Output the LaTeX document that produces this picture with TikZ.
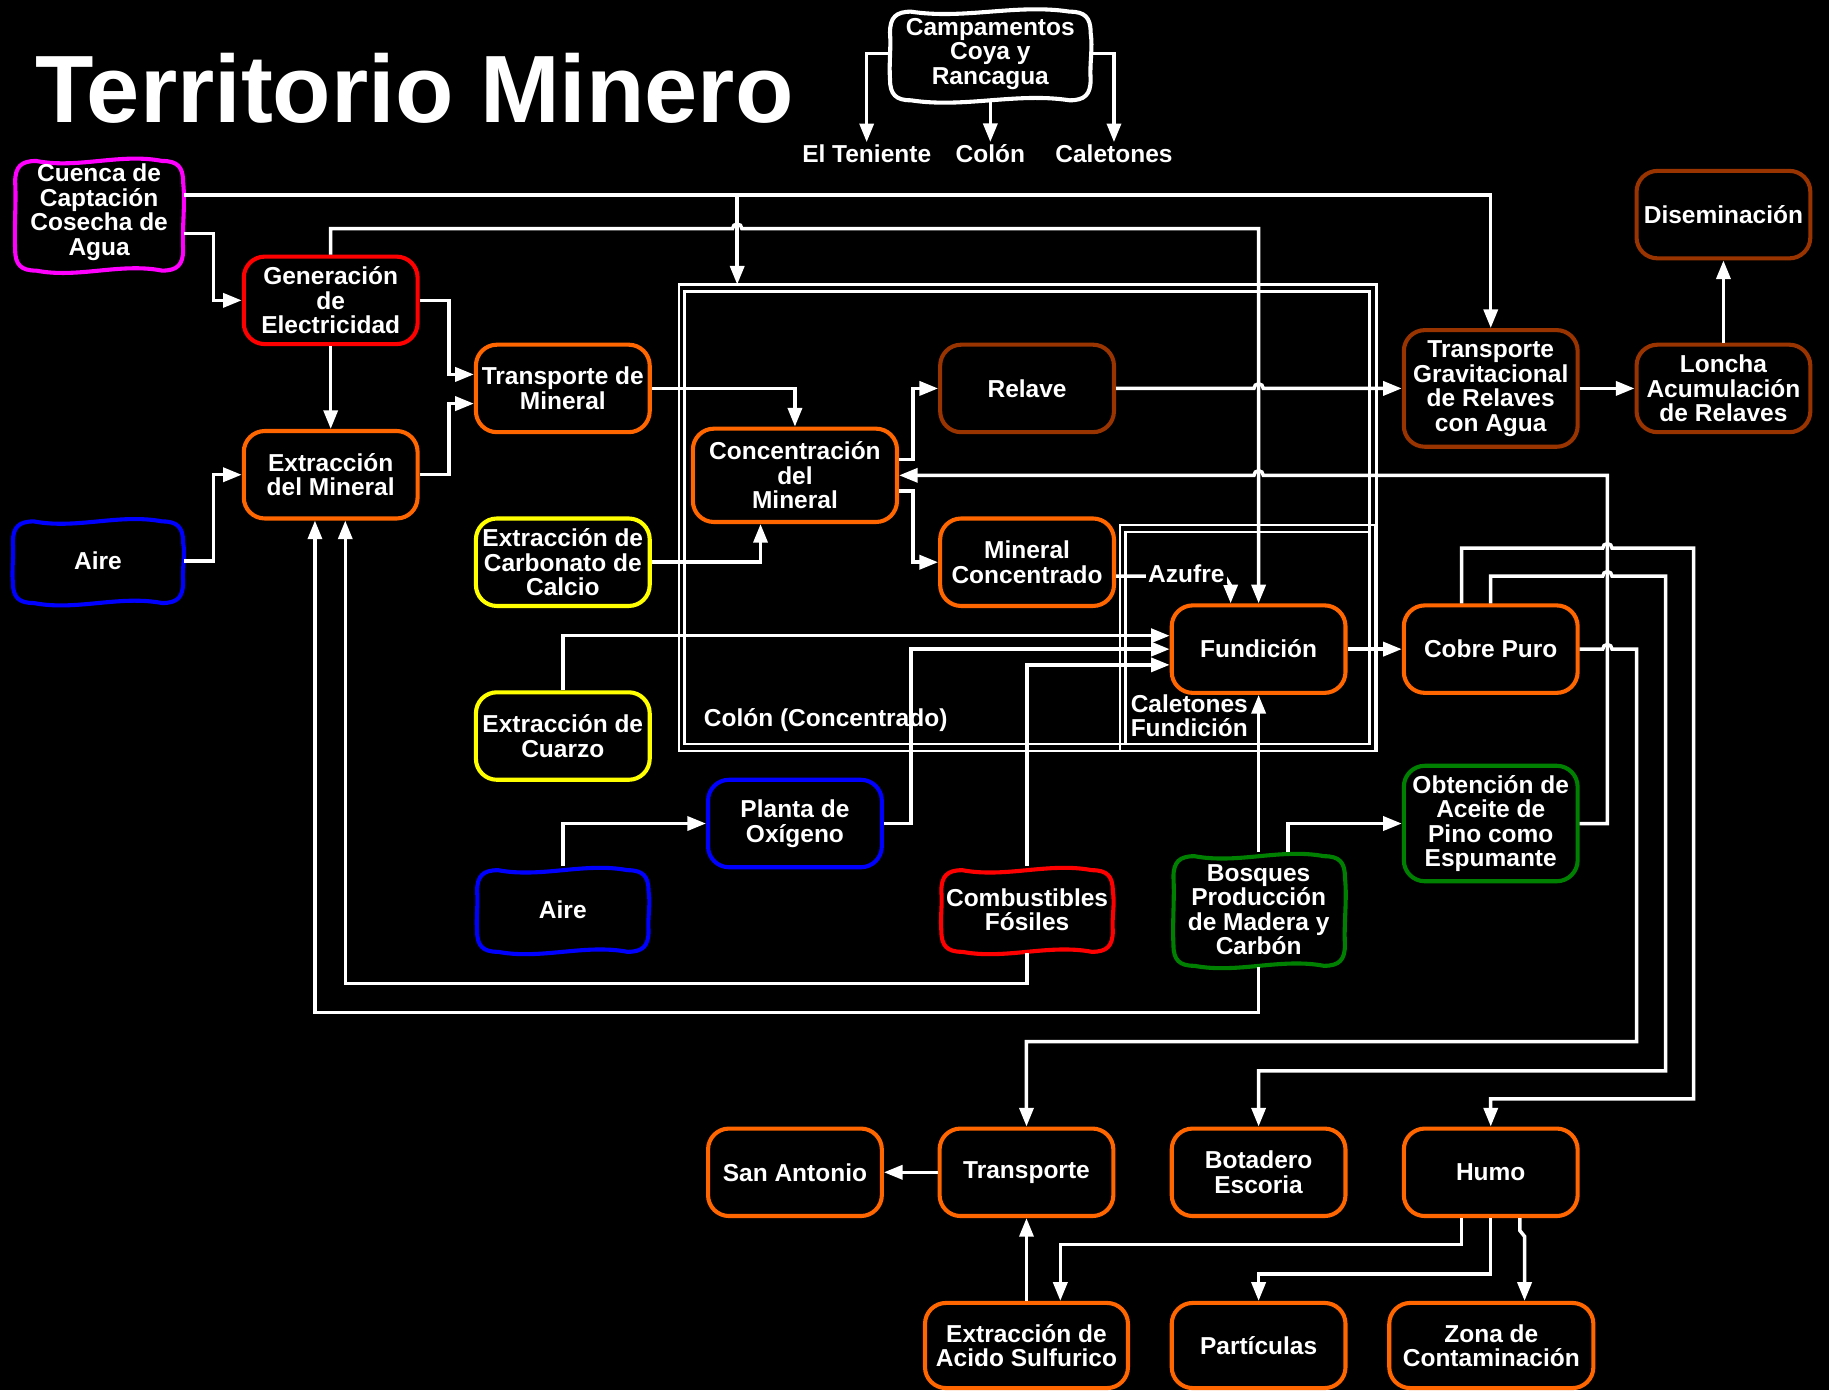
\documentclass[tikz,border=0pt]{standalone}
\usepackage{fontspec}
\setmainfont{Liberation Sans}
\usetikzlibrary{arrows.meta}
\definecolor{corange}{HTML}{FF6600}
\definecolor{cbrown}{HTML}{993300}
\definecolor{cred}{HTML}{FF0000}
\definecolor{cyellow}{HTML}{FFFF00}
\definecolor{cblue}{HTML}{0000FF}
\definecolor{cgreen}{HTML}{008000}
\definecolor{cmagenta}{HTML}{FF00FF}
\newcommand\wavyshape[5]{%
  \pgfmathsetmacro\wxa{#1}%
  \pgfmathsetmacro\wya{#2}%
  \pgfmathsetmacro\wxb{#3}%
  \pgfmathsetmacro\wyb{#4}%
  \pgfmathsetmacro\wtt{(#3-#1-36)/3}%
  \pgfmathsetmacro\wth{(#4-#2-36)/3}%
  \draw[line width=1.75pt, draw=#5, fill=black]
    ({\wxa},{\wya+18}) .. controls ({\wxa},{\wya+5}) and ({\wxa+5},{\wya}) .. ({\wxa+18},{\wya})
    .. controls ({\wxa+18+\wtt},{\wya+7}) and ({\wxb-18-\wtt},{\wya-7}) .. ({\wxb-18},{\wya})
    .. controls ({\wxb-5},{\wya}) and ({\wxb},{\wya+5}) .. ({\wxb},{\wya+18})
    .. controls ({\wxb+2},{\wya+18+\wth}) and ({\wxb-1},{\wyb-18-\wth}) .. ({\wxb},{\wyb-18})
    .. controls ({\wxb},{\wyb-5}) and ({\wxb-5},{\wyb}) .. ({\wxb-18},{\wyb})
    .. controls ({\wxb-18-\wtt},{\wyb-7}) and ({\wxa+18+\wtt},{\wyb+7}) .. ({\wxa+18},{\wyb})
    .. controls ({\wxa+5},{\wyb}) and ({\wxa},{\wyb-5}) .. ({\wxa},{\wyb-18})
    .. controls ({\wxa-1},{\wyb-18-\wth}) and ({\wxa+1},{\wya+18+\wth}) .. ({\wxa},{\wya+18}) -- cycle;
}
\begin{document}
\begin{tikzpicture}[x=0.5pt,y=-0.5pt,
  every node/.style={text=white, font=\fontsize{10.5}{10.5}\selectfont\bfseries, align=center},
  box/.style={rectangle, rounded corners=9pt, line width=1.75pt, fill=black, inner sep=0pt,
              minimum width=74.5pt, minimum height=37.5pt},
  ghost/.style={rectangle, inner sep=0pt, minimum width=74.5pt, minimum height=37pt},
  arr/.style={draw=white, line width=1.5pt, -{Triangle[length=8pt,width=6pt]}},
  cont/.style={draw=white, line width=1.1pt},
  lbl/.style={inner sep=1pt},
]
\fill[black] (0,0) rectangle (1568,1192);
\useasboundingbox (0,0) rectangle (1568,1192);

% containers
\draw[cont] (582,244) rectangle (1180,644);
\draw[cont] (587,250) rectangle (1174,638);
\draw[cont] (960,450) rectangle (1179,644);
\draw[cont] (965,456) rectangle (1174,638);

% title
\node[anchor=base west, inner sep=0pt, font=\fontsize{41}{41}\selectfont\bfseries] (title) at (30,105) {Territorio Minero};

% boxes
\node[box, draw=cred] (gen) at (283.5,257.5) {Generación\\de\\Electricidad};
\node[box, draw=corange] (extm) at (283.5,407) {Extracción\\del Mineral};
\node[box, draw=corange] (tmin) at (482.5,333) {Transporte de\\Mineral};
\node[box, draw=cyellow] (carb) at (482.5,482) {Extracción de\\Carbonato de\\Calcio};
\node[box, draw=cyellow] (cuarzo) at (482.5,631) {Extracción de\\Cuarzo};
\node[box, draw=cblue] (planta) at (681.5,706) {Planta de\\Oxígeno};
\node[box, draw=corange, minimum width=87.5pt, minimum height=40pt] (conc) at (681.5,407.5) {Concentración\\del\\Mineral};
\node[box, draw=cbrown] (relave) at (880.5,333) {Relave};
\node[box, draw=corange] (mconc) at (880.5,482) {Mineral\\Concentrado};
\node[box, draw=corange] (fund) at (1079,556.5) {Fundición};
\node[box, draw=corange] (cobre) at (1278,556.5) {Cobre Puro};
\node[box, draw=cbrown, minimum height=50pt] (tgrav) at (1278,333) {Transporte\\Gravitacional\\de Relaves\\con Agua};
\node[box, draw=cbrown] (loncha) at (1477.5,333) {Loncha\\Acumulación\\de Relaves};
\node[box, draw=cbrown] (disem) at (1477.5,184) {Diseminación};
\node[box, draw=cgreen, minimum height=49.5pt] (obt) at (1278,706) {Obtención de\\Aceite de\\Pino como\\Espumante};
\node[box, draw=corange] (sanant) at (681.5,1005) {San Antonio};
\node[box, draw=corange] (transp) at (880,1005) {Transporte};
\node[box, draw=corange] (botad) at (1079,1005) {Botadero\\Escoria};
\node[box, draw=corange] (humo) at (1278,1005) {Humo};
\node[box, draw=corange, minimum width=87pt, minimum height=36.5pt] (acido) at (880,1153.5) {Extracción de\\Acido Sulfurico};
\node[box, draw=corange, minimum height=36.5pt] (partic) at (1079,1153.5) {Partículas};
\node[box, draw=corange, minimum width=87.5pt, minimum height=36.5pt] (zona) at (1278.5,1153.5) {Zona de\\Contaminación};

% wavy shapes
\wavyshape{13}{138}{157}{232}{cmagenta}
\wavyshape{11}{447}{157}{517}{cblue}
\wavyshape{409}{746}{556}{816}{cblue}
\wavyshape{807}{746}{954}{816}{cred}
\wavyshape{1006}{734}{1153}{828}{cgreen}
\wavyshape{763}{10}{935}{86}{white}
\node[ghost, minimum width=72.5pt, minimum height=48pt] (cuenca) at (85,182) {Cuenca de\\Captación\\Cosecha de\\Agua};
\node[ghost, minimum width=73.5pt] (aire1) at (84,481) {Aire};
\node[ghost] (aire2) at (482.5,780) {Aire};
\node[ghost] (comb) at (880.5,780) {Combustibles\\Fósiles};
\node[ghost, minimum height=49pt] (bosq) at (1079,780) {Bosques\\Producción\\de Madera y\\Carbón};
\node[ghost, minimum width=87pt, minimum height=40pt] (camp) at (849,46) {Campamentos\\Coya y\\Rancagua};

% labels
\node[lbl] (tenl) at (743,132) {El Teniente};
\node[lbl] (colonl) at (849,132) {Colón};
\node[lbl] (caletl) at (955,132) {Caletones};
\node[lbl, anchor=west] (colonc) at (601,617) {Colón (Concentrado)};
\node[lbl, anchor=west, align=left] (caletf) at (967,613.5) {Caletones\\Fundición};

% connectors
\draw[arr] (camp.west |- 0,46) -| (tenl.north);
\draw[arr] (camp.south) -- (colonl.north);
\draw[arr] (camp.east |- 0,46) -| (caletl.north);

\coordinate (j1) at (632,167);
\coordinate (colontop) at (632,244);
\draw[arr] (cuenca.east |- 0,167) -| (tgrav.north);
\draw[arr] (j1) -- (colontop);
\draw[arr] (cuenca.east |- 0,200) -- (183,200) |- (gen.west);
\draw[arr] (gen.north) -- (283.5,196) -- (628,196) arc[start angle=180,end angle=360,radius=4] -- (1079,196) -- (fund.north);
\draw[arr] (gen.south) -- (extm.north);
\draw[arr] (gen.east) -- ++(25,0) |- (tmin.west |- 0,321);
\draw[arr] (extm.east) -- ++(25,0) |- (tmin.west |- 0,346);
\draw[arr] (aire1.east) -- ++(25,0) |- (extm.west);
\draw[arr] (tmin.east) -| (conc.north);
\draw[arr] (carb.east) -| (conc.south -| 652,0);
\draw[arr] (conc.east |- 0,394) -- ++(12,0) |- (relave.west);
\draw[arr] (conc.east |- 0,421) -- ++(12,0) |- (mconc.west);
\draw[arr] (relave.east) -- (1075,333) arc[start angle=180,end angle=360,radius=4] -- (tgrav.west);
\draw[arr] (tgrav.east) -- (loncha.west);
\draw[arr] (loncha.north) -- (disem.south);
\draw[arr] (obt.east) -- (1378,706) -- (1378,407.5) -- (1083,407.5) arc[start angle=0,end angle=-180,radius=4] -- (conc.east);
\draw[arr] (mconc.east |- 0,494) -- (1050,494) -- (1055,502) -- (fund.north -| 1055,0);
\node[lbl, fill=black] (azufre) at (1017,492) {Azufre};
\draw[arr] (cuarzo.north) |- (fund.west |- 0,545);
\draw[arr] (aire2.north) |- (planta.west);
\draw[arr] (planta.east) -- (781,706) |- (fund.west);
\draw[arr] (comb.north) |- (fund.west |- 0,570);
\draw[arr] (comb.south) -- (880.5,843) -| (extm.south -| 296,0);
\draw[arr] (bosq.south) -- (1079,868) -| (extm.south -| 270,0);
\draw[arr] (bosq.north) -- (fund.south);
\draw[arr] (bosq.north -| 1104,0) |- (obt.west);
\draw[arr] (fund.east) -- (cobre.west);
\draw[arr] (cobre.east) -- (1374,556.5) arc[start angle=180,end angle=360,radius=4] -- (1403,556.5) -- (1403,893) -| (transp.north);
\draw[arr] (cobre.north) -- (1278,494) -- (1374,494) arc[start angle=180,end angle=360,radius=4] -- (1428,494) -- (1428,918) -| (botad.north);
\draw[arr] (cobre.north -| 1253,0) -- (1253,470) -- (1374,470) arc[start angle=180,end angle=360,radius=4] -- (1452,470) -- (1452,942) -| (humo.north);
\draw[arr] (humo.south -| 1253,0) -- (1253,1067) -| (acido.north -| 909,0);
\draw[arr] (humo.south) -- (1278,1092) -| (partic.north);
\draw[arr] (humo.south -| 1303,0) -- (1303,1055) -- (1307,1060) -- (zona.north -| 1307,0);
\draw[arr] (acido.north) -- (transp.south);
\draw[arr] (transp.west) -- (sanant.east);
\end{tikzpicture}
\end{document}
